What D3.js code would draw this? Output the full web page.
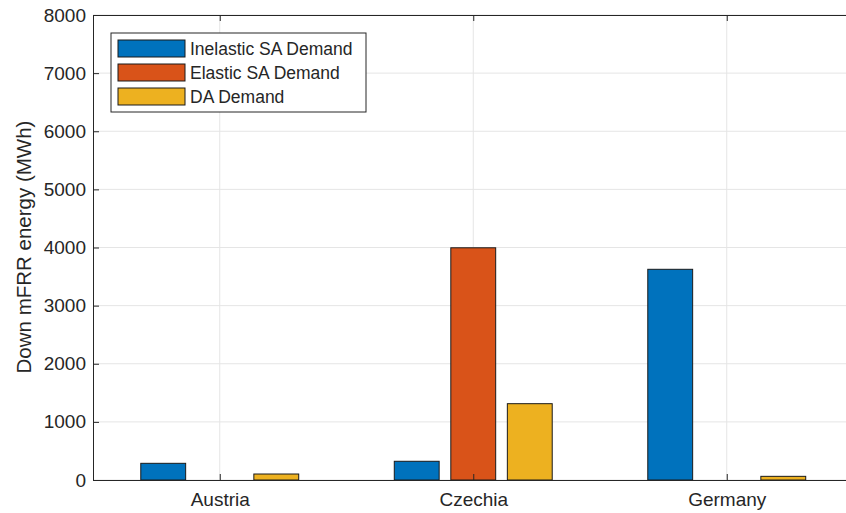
<!DOCTYPE html>
<html>
<head>
<meta charset="utf-8">
<script src="https://cdn.jsdelivr.net/npm/d3@7"></script>
<style>
  body { margin: 0; background: #fff; }
  svg text { font-family: "Liberation Sans", Arial, sans-serif; fill: #262626; }
</style>
</head>
<body>
<div id="chart"></div>
<script>
var countries = ["Austria", "Czechia", "Germany"];
var seriesNames = ["Inelastic SA Demand", "Elastic SA Demand", "DA Demand"];
var inelasticSA = [287, 322, 3625];
var elasticSA = [0, 3995, 0];
var daDemand = [103, 1313, 63];
var yTicks = [0, 1000, 2000, 3000, 4000, 5000, 6000, 7000, 8000];
var colors = ["#0072BD", "#D95319", "#EDB120"];

var width = 846, height = 513;
var series = [inelasticSA, elasticSA, daDemand];

var svg = d3.select("#chart").append("svg")
    .attr("width", width)
    .attr("height", height);

// matlab style: xlim [0.5 3.5], right edge falls outside the window
var x = d3.scaleLinear().domain([0.5, 3.5]).range([93, 853.5]);
var y = d3.scaleLinear().domain([0, 8000]).range([480, 15]);

var barW = 0.177, offset = 0.223;

// grid
var grid = svg.append("g");
grid.selectAll(".gy").data(yTicks).enter().append("line")
    .attr("x1", x(0.5)).attr("x2", x(3.5))
    .attr("y1", function(d) { return y(d); })
    .attr("y2", function(d) { return y(d); })
    .attr("stroke", "#e5e5e5").attr("stroke-width", 1);
grid.selectAll(".gx").data(countries).enter().append("line")
    .attr("x1", function(d, i) { return x(i + 1); })
    .attr("x2", function(d, i) { return x(i + 1); })
    .attr("y1", y(0)).attr("y2", y(8000))
    .attr("stroke", "#e5e5e5").attr("stroke-width", 1);

// bars
series.forEach(function(vals, s) {
    svg.append("g").selectAll("rect")
        .data(vals)
        .enter()
        .append("rect")
        .attr("x", function(d, i) { return x(i + 1 + (s - 1) * offset - barW / 2); })
        .attr("width", x(barW) - x(0))
        .attr("y", function(d) { return y(d); })
        .attr("height", function(d) { return y(0) - y(d); })
        .attr("fill", colors[s])
        .attr("stroke", "#1a1a1a")
        .attr("stroke-width", 1);
});

// axes
var yAxis = d3.axisLeft(y).tickValues(yTicks).tickSize(-6).tickPadding(7).tickFormat(d3.format("d"));
var gy = svg.append("g").attr("transform", "translate(" + x(0.5) + ",0)").call(yAxis);
gy.selectAll("text").attr("font-size", "19px").attr("font-family", "Liberation Sans, Arial, sans-serif").attr("fill", "#262626");
gy.selectAll("line").attr("stroke", "#262626");
gy.select(".domain").attr("stroke", "#262626");

var xAxis = d3.axisBottom(x).tickValues([1, 2, 3]).tickSize(-6).tickPadding(13)
    .tickFormat(function(d) { return countries[d - 1]; });
var gx = svg.append("g").attr("transform", "translate(0," + y(0) + ")").call(xAxis);
gx.selectAll("text").attr("font-size", "19px").attr("font-family", "Liberation Sans, Arial, sans-serif").attr("fill", "#262626");
gx.selectAll("line").attr("stroke", "#262626");
gx.select(".domain").attr("stroke", "#262626");

// top border + top ticks
var gt = svg.append("g").attr("transform", "translate(0," + y(8000) + ")")
    .call(d3.axisTop(x).tickValues([1, 2, 3]).tickSize(-6).tickFormat(""));
gt.selectAll("line").attr("stroke", "#262626");
gt.select(".domain").attr("stroke", "#262626");

// y label
svg.append("text")
    .attr("transform", "translate(31," + 247 + ") rotate(-90)")
    .attr("text-anchor", "middle")
    .attr("font-size", "20.5px")
    .text("Down mFRR energy (MWh)");

// legend
var legend = svg.append("g").attr("transform", "translate(111,33)");
legend.append("rect")
    .attr("width", 255).attr("height", 79)
    .attr("fill", "#fff").attr("stroke", "#262626").attr("stroke-width", 1);
seriesNames.forEach(function(name, i) {
    legend.append("rect")
        .attr("x", 7).attr("y", 7 + i * 24)
        .attr("width", 67).attr("height", 17)
        .attr("fill", colors[i]).attr("stroke", "#1a1a1a");
    legend.append("text")
        .attr("x", 79).attr("y", 22 + i * 24)
        .attr("font-size", "17.5px")
        .text(name);
});
</script>
</body>
</html>
